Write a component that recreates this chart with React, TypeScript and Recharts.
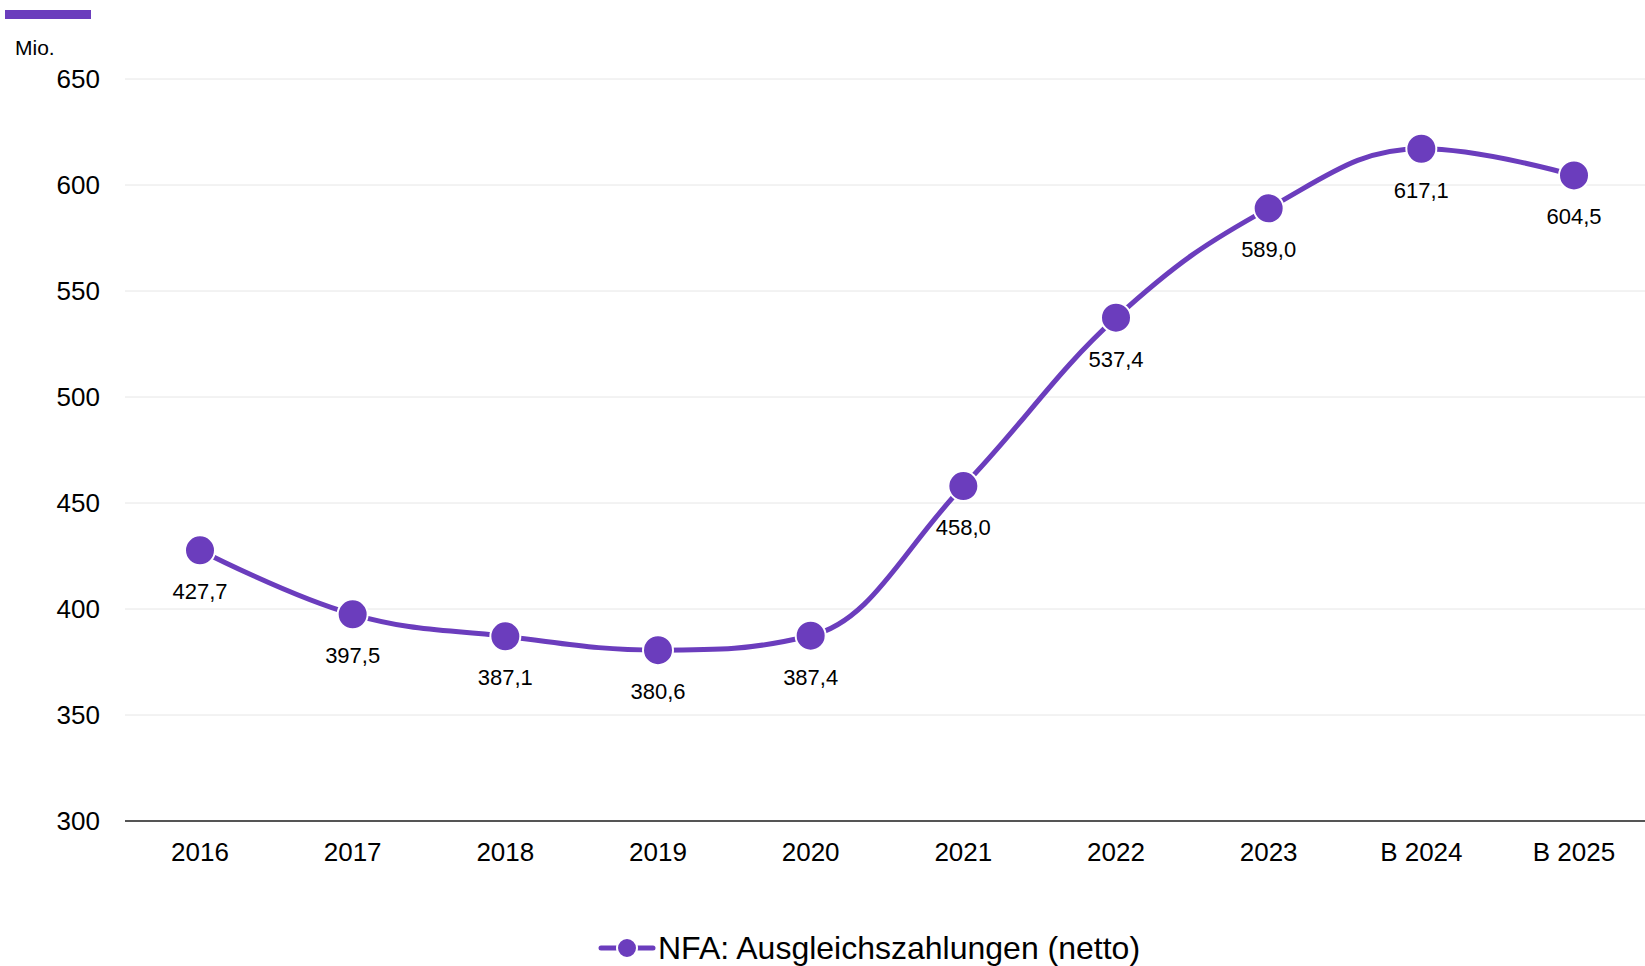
import React from 'react';
import { LineChart, Line, XAxis, YAxis, CartesianGrid, LabelList } from 'recharts';

const years = ['2016', '2017', '2018', '2019', '2020', '2021', '2022', '2023', 'B 2024', 'B 2025'];
const payments = [427.7, 397.5, 387.1, 380.6, 387.4, 458.0, 537.4, 589.0, 617.1, 604.5];
const yTicks = [300, 350, 400, 450, 500, 550, 600, 650];
const seriesName = 'NFA: Ausgleichszahlungen (netto)';
const unitLabel = 'Mio.';

const PURPLE = '#6b3dbd';
const FONT = '"Liberation Sans", Arial, sans-serif';

const chartData = years.map((year, i) => ({ year, value: payments[i] }));

// spline similar to the one in the source chart (smoothing 1.5, clamped extremes)
const splineCurve = (context: any) => {
  let pts: number[][] = [];
  return {
    areaStart() {},
    areaEnd() {},
    lineStart() {
      pts = [];
    },
    point(x: number, y: number) {
      pts.push([+x, +y]);
    },
    lineEnd() {
      const n = pts.length;
      if (!n) return;
      const sm = 1.5;
      const den = sm + 1;
      const lc: number[][] = [];
      const rc: number[][] = [];
      for (let i = 0; i < n; i++) {
        const [x, y] = pts[i];
        if (i > 0 && i < n - 1) {
          const [lx, ly] = pts[i - 1];
          const [nx, ny] = pts[i + 1];
          const lcx = (sm * x + lx) / den;
          let lcy = (sm * y + ly) / den;
          const rcx = (sm * x + nx) / den;
          let rcy = (sm * y + ny) / den;
          const corr = ((rcy - lcy) * (rcx - x)) / (rcx - lcx) + y - rcy;
          lcy += corr;
          rcy += corr;
          if (lcy > ly && lcy > y) {
            lcy = Math.max(ly, y);
            rcy = 2 * y - lcy;
          } else if (lcy < ly && lcy < y) {
            lcy = Math.min(ly, y);
            rcy = 2 * y - lcy;
          }
          if (rcy > ny && rcy > y) {
            rcy = Math.max(ny, y);
            lcy = 2 * y - rcy;
          } else if (rcy < ny && rcy < y) {
            rcy = Math.min(ny, y);
            lcy = 2 * y - rcy;
          }
          lc[i] = [lcx, lcy];
          rc[i] = [rcx, rcy];
        } else {
          lc[i] = [x, y];
          rc[i] = [x, y];
        }
      }
      context.moveTo(pts[0][0], pts[0][1]);
      for (let i = 1; i < n; i++) {
        context.bezierCurveTo(rc[i - 1][0], rc[i - 1][1], lc[i][0], lc[i][1], pts[i][0], pts[i][1]);
      }
    },
  };
};

const fmt = (v: number) => v.toFixed(1).replace('.', ',');

const ValueLabel: React.FC<any> = ({ x, y, value }) => (
  <text x={x} y={y + 49} textAnchor="middle" fontSize={22} fill="#000" fontFamily={FONT}>
    {fmt(Number(value))}
  </text>
);

export default function App() {
  return (
    <div style={{ position: 'absolute', left: 0, top: 0, width: 1645, height: 966, background: '#fff', fontFamily: FONT }}>
      <div style={{ position: 'absolute', left: 5, top: 10, width: 86, height: 9, background: PURPLE }} />
      <div style={{ position: 'absolute', left: 15, top: 37, fontSize: 21, lineHeight: 1, color: '#000' }}>{unitLabel}</div>
      <LineChart width={1645} height={966} data={chartData} margin={{ top: 79, right: 0, bottom: 115, left: 0 }}>
        <CartesianGrid vertical={false} stroke="#e6e6e6" strokeWidth={1} />
        <XAxis
          dataKey="year"
          padding={{ left: 75, right: 71 }}
          tickLine={false}
          tickSize={0}
          tickMargin={22}
          axisLine={{ stroke: '#555', strokeWidth: 2 }}
          tick={{ fill: '#000', fontSize: 26, fontFamily: FONT }}
          height={30}
          interval={0}
        />
        <YAxis
          domain={[300, 650]}
          ticks={yTicks}
          width={125}
          axisLine={false}
          tickLine={false}
          tickSize={0}
          tickMargin={25}
          tick={{ fill: '#000', fontSize: 26, fontFamily: FONT }}
        />
        <Line
          dataKey="value"
          name={seriesName}
          type={splineCurve as any}
          stroke={PURPLE}
          strokeWidth={5}
          dot={{ r: 15, fill: PURPLE, stroke: '#fff', strokeWidth: 2 }}
          activeDot={false}
          isAnimationActive={false}
        >
          <LabelList dataKey="value" content={<ValueLabel />} />
        </Line>
      </LineChart>
      <div
        style={{
          position: 'absolute',
          left: 597,
          top: 932,
          display: 'flex',
          alignItems: 'center',
          fontSize: 32,
          lineHeight: 1,
          color: '#000',
          whiteSpace: 'nowrap',
        }}
      >
        <svg width={60} height={32} style={{ marginRight: 1 }}>
          <line x1={4} y1={16} x2={56} y2={16} stroke={PURPLE} strokeWidth={5} strokeLinecap="round" />
          <circle cx={30} cy={16} r={10} fill={PURPLE} stroke="#fff" strokeWidth={2} />
        </svg>
        <span>{seriesName}</span>
      </div>
    </div>
  );
}
